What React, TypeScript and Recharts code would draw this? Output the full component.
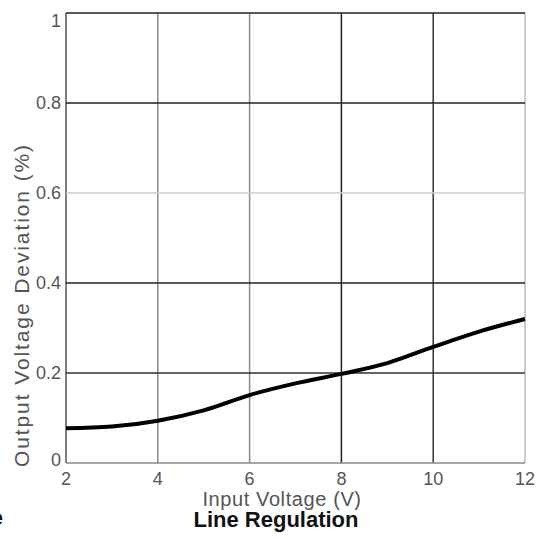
import React from 'react';
import { LineChart, Line, XAxis, YAxis, ReferenceLine } from 'recharts';

const inputVoltage = [2, 3, 4, 5, 6, 7, 8, 9, 10, 11, 12];
const deviation = [0.077, 0.081, 0.094, 0.117, 0.151, 0.177, 0.198, 0.222, 0.258, 0.292, 0.32];
const xTicks = [2, 4, 6, 8, 10, 12];
const yTicks = [0, 0.2, 0.4, 0.6, 0.8, 1];

const xGridColors = ['#555', '#8a8a94', '#8a8a94', '#222', '#333', '#bbb'];
const yGridColors = ['#8a8a7a', '#333', '#222', '#cfcfbf', '#222', '#222'];

const data = inputVoltage.map((v, i) => ({ v, dev: deviation[i] }));

const W = 539;
const H = 539;
const FONT = "Arial, 'Liberation Sans', sans-serif";

function YTick(props: any) {
  const { x, y, payload } = props;
  const dy = payload.value === 1 ? 14 : payload.value === 0 ? 3 : 6;
  return (
    <text x={x} y={y} dy={dy} textAnchor="end" fill="#555" fontSize={18} fontFamily={FONT}>
      {payload.value}
    </text>
  );
}

export default function App() {
  return (
    <div style={{ position: 'absolute', left: 0, top: 0, width: W, height: H, background: '#fff' }}>
      <LineChart width={W} height={H} data={data} margin={{ top: 13, right: 14, bottom: 0, left: 0 }}>
        <XAxis
          dataKey="v"
          type="number"
          domain={[2, 12]}
          ticks={xTicks}
          axisLine={false}
          tickLine={false}
          height={76}
          tickSize={4}
          tickMargin={5}
          tick={{ fill: '#555', fontSize: 18, fontFamily: FONT }}
        />
        <YAxis
          type="number"
          domain={[0, 1]}
          ticks={yTicks}
          axisLine={false}
          tickLine={false}
          width={66}
          tickSize={3}
          tickMargin={2}
          tick={<YTick />}
        />
        {xTicks.map((t, i) => (
          <ReferenceLine key={'x' + t} x={t} stroke={xGridColors[i]} strokeWidth={1.5} />
        ))}
        {yTicks.map((t, i) => (
          <ReferenceLine key={'y' + t} y={t} stroke={yGridColors[i]} strokeWidth={1.5} />
        ))}
        <Line
          type="monotone"
          dataKey="dev"
          stroke="#000"
          strokeWidth={4}
          dot={false}
          isAnimationActive={false}
        />
      </LineChart>
      <svg width={W} height={H} style={{ position: 'absolute', left: 0, top: 0, pointerEvents: 'none' }}>
        <text
          x={28.5}
          y={305}
          transform="rotate(-90 28.5 305)"
          textAnchor="middle"
          fill="#555"
          fontSize={21}
          letterSpacing={1.9}
          fontFamily={FONT}
        >
          Output Voltage Deviation (%)
        </text>
        <text x={282} y={506} textAnchor="middle" fill="#555" fontSize={20} letterSpacing={0.6} fontFamily={FONT}>
          Input Voltage (V)
        </text>
        <text x={276} y={527} textAnchor="middle" fill="#111" fontSize={22} fontWeight="bold" fontFamily={FONT}>
          Line Regulation
        </text>
        <text x={3} y={525} textAnchor="end" fill="#111" fontSize={22} fontWeight="bold" fontFamily={FONT}>
          e
        </text>
      </svg>
    </div>
  );
}
